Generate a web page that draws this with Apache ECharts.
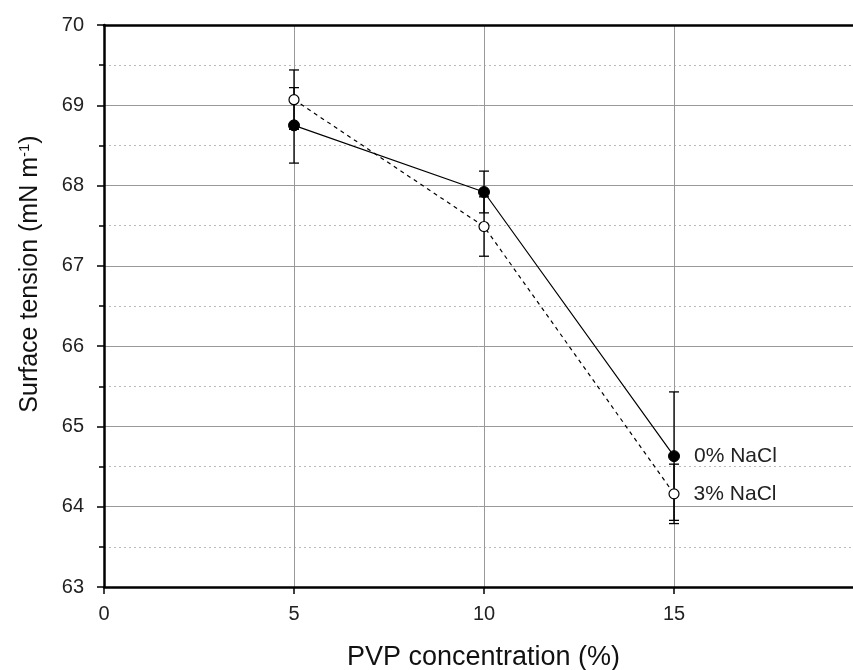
<!DOCTYPE html>
<html><head><meta charset="utf-8">
<script src="https://cdn.jsdelivr.net/npm/echarts@6/dist/echarts.min.js"></script>
<style>html,body{margin:0;padding:0;background:#fff}#c{width:853px;height:670px}</style>
</head><body><div id="c"></div>
<script>
const pvp = [5, 10, 15];
const nacl0 = [68.75, 67.92, 64.63];
const nacl0Err = [0.47, 0.26, 0.80];
const nacl3 = [69.07, 67.49, 64.16];
const nacl3Err = [0.37, 0.37, 0.37];
const seriesNames = ['0% NaCl', '3% NaCl'];

const chart = echarts.init(document.getElementById('c'));
const font = 'Liberation Sans, Arial, sans-serif';
const X_MAX = 19.71;

function errData(vals, errs) {
  return pvp.map((x, i) => [x, vals[i] - errs[i], vals[i] + errs[i]]);
}
function errRender(params, api) {
  const x = api.value(0);
  const lo = api.coord([x, api.value(1)]);
  const hi = api.coord([x, api.value(2)]);
  const w = 5;
  const st = {stroke: '#000', lineWidth: 1.3};
  return {type: 'group', children: [
    {type: 'line', shape: {x1: lo[0], y1: lo[1], x2: hi[0], y2: hi[1]}, style: st},
    {type: 'line', shape: {x1: lo[0]-w, y1: lo[1], x2: lo[0]+w, y2: lo[1]}, style: st},
    {type: 'line', shape: {x1: hi[0]-w, y1: hi[1], x2: hi[0]+w, y2: hi[1]}, style: st}
  ]};
}
function pts(vals, name) {
  return pvp.map((x, i) => {
    const d = {value: [x, vals[i]]};
    if (i === pvp.length - 1) {
      d.label = {show: true, position: 'right', distance: 14, formatter: name,
        fontFamily: font, fontSize: 21, color: '#222'};
    }
    return d;
  });
}

chart.setOption({
  backgroundColor: '#fff',
  animation: false,
  grid: {left: 104, top: 25, right: 0, bottom: 83, containLabel: false, outerBoundsMode: 'none'},
  xAxis: [{
    type: 'value', min: 0, max: X_MAX, interval: 5,
    name: 'PVP concentration (%)', nameLocation: 'middle', nameGap: 57,
    nameTextStyle: {fontFamily: font, fontSize: 27, color: '#111', padding: [0, 0, 0, 10]},
    axisLine: {show: true, onZero: false, lineStyle: {color: '#000', width: 2.5}},
    axisTick: {show: true, inside: false, length: 7, lineStyle: {color: '#000', width: 1.5}},
    axisLabel: {fontFamily: font, fontSize: 20, color: '#222', margin: 17, showMaxLabel: false},
    splitLine: {show: true, lineStyle: {color: '#999', width: 1}}
  }, {
    type: 'value', position: 'top', min: 0, max: X_MAX, interval: 5,
    axisLine: {show: true, onZero: false, lineStyle: {color: '#000', width: 2.5}},
    axisTick: {show: false}, axisLabel: {show: false}, splitLine: {show: false}
  }],
  yAxis: {
    type: 'value', min: 63, max: 70, interval: 1,
    name: 'Surface tension (mN m{sup|-1})', nameLocation: 'middle', nameGap: 60,
    nameTextStyle: {fontFamily: font, fontSize: 25, color: '#111', padding: [0, 0, 0, 64],
      rich: {sup: {fontFamily: font, fontSize: 15, color: '#111', verticalAlign: 'top', padding: [0,0,12,0]}}},
    axisLine: {show: true, onZero: false, lineStyle: {color: '#000', width: 2.5}},
    axisTick: {show: true, inside: false, length: 7, lineStyle: {color: '#000', width: 1.5}},
    minorTick: {show: true, splitNumber: 2, length: 5, lineStyle: {color: '#000', width: 1.5}},
    axisLabel: {fontFamily: font, fontSize: 20, color: '#222', margin: 20},
    splitLine: {show: true, lineStyle: {color: '#999', width: 1}},
    minorSplitLine: {show: true, lineStyle: {color: '#bbb', width: 1, type: [2, 3]}}
  },
  series: [
    {type: 'custom', renderItem: errRender, data: errData(nacl0, nacl0Err), z: 3},
    {type: 'custom', renderItem: errRender, data: errData(nacl3, nacl3Err), z: 3},
    {name: seriesNames[0], type: 'line', data: pts(nacl0, seriesNames[0]),
      symbol: 'circle', symbolSize: 11,
      itemStyle: {color: '#000', borderColor: '#000'},
      lineStyle: {color: '#000', width: 1.2, type: 'solid'}, z: 4},
    {name: seriesNames[1], type: 'line', data: pts(nacl3, seriesNames[1]),
      symbol: 'circle', symbolSize: 10,
      itemStyle: {color: '#fff', borderColor: '#000', borderWidth: 1.2},
      lineStyle: {color: '#000', width: 1.2, type: [4, 4]}, z: 4}
  ]
});
</script></body></html>
